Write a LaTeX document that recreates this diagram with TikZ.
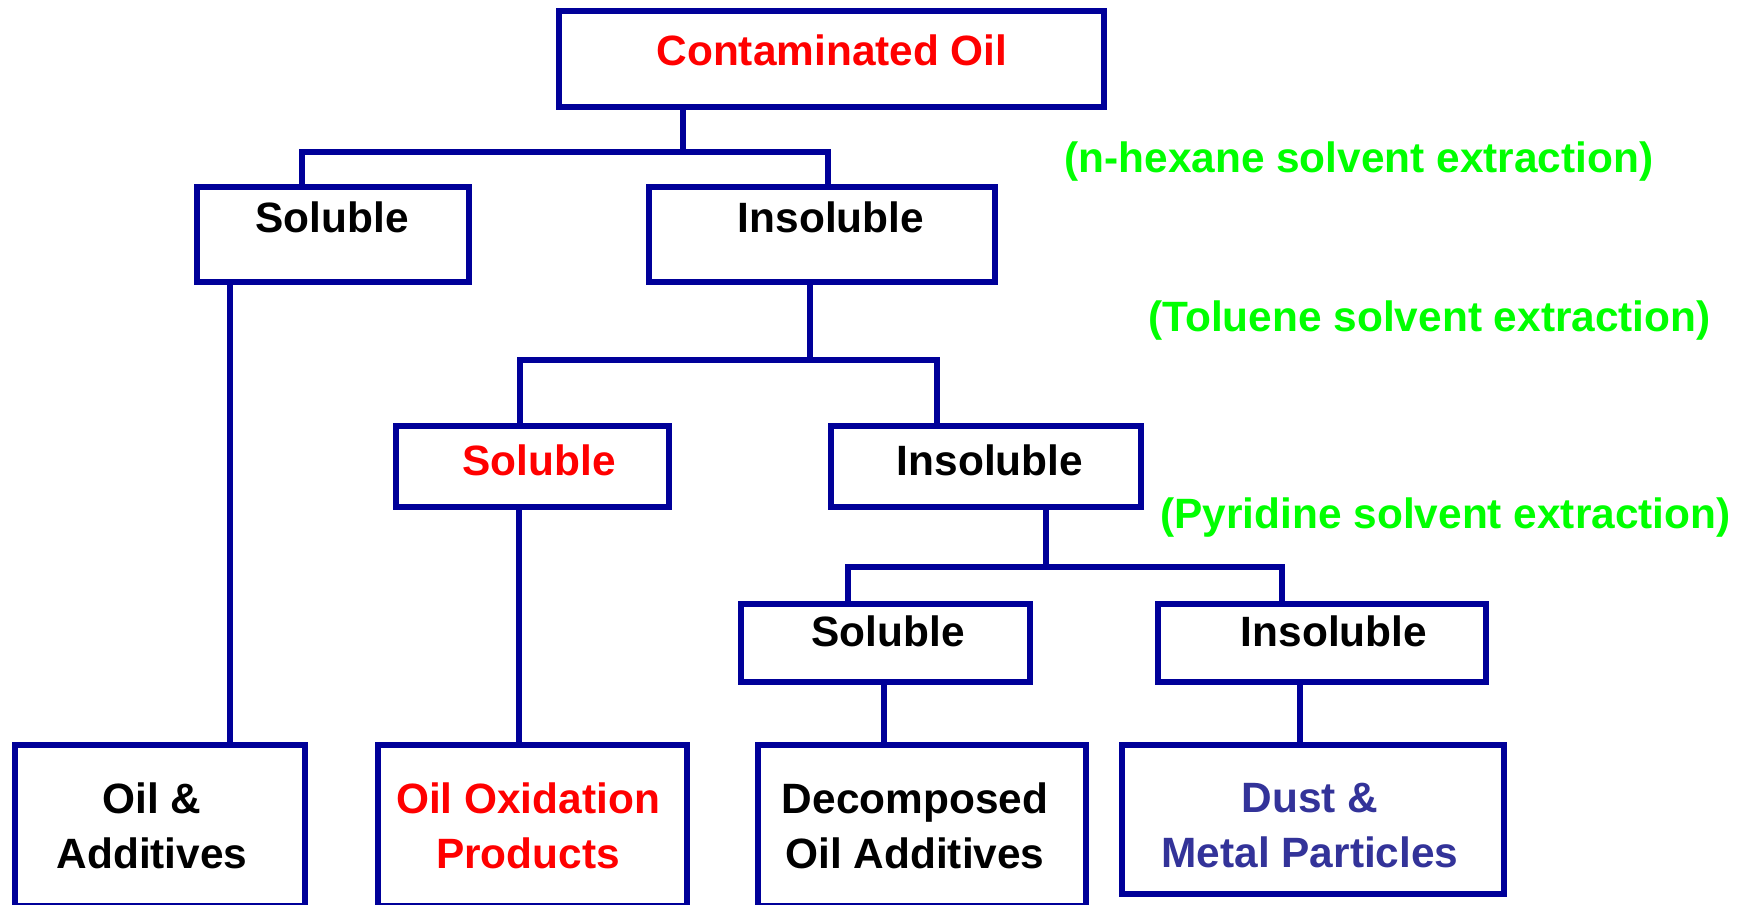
\documentclass[tikz,border=0pt]{standalone}
\usepackage{fontspec}
\setmainfont{Liberation Sans}
\definecolor{lineblue}{HTML}{000099}
\definecolor{txtred}{HTML}{FF0000}
\definecolor{txtgreen}{HTML}{00FF00}
\definecolor{txtdust}{HTML}{333399}
\begin{document}
\begin{tikzpicture}[x=0.5pt,y=-0.5pt,
  box/.style={draw=lineblue,line width=3pt,rectangle,inner sep=0pt,anchor=north west},
  lbl/.style={font=\fontsize{21.2pt}{27.5pt}\selectfont\bfseries,inner sep=0pt,align=center},
  note/.style={lbl,text=txtgreen,anchor=west},
  conn/.style={draw=lineblue,line width=3pt}]
\useasboundingbox (0,0) rectangle (1747,905);
% boxes
\node[box,minimum width=272.5pt,minimum height=48pt] (top) at (556,8) {};
\node[box,minimum width=136pt,minimum height=47.5pt] (sol1) at (194,184) {};
\node[box,minimum width=173pt,minimum height=47.5pt] (ins1) at (646,184) {};
\node[box,minimum width=136.5pt,minimum height=40.5pt] (sol2) at (393,423) {};
\node[box,minimum width=155pt,minimum height=40.5pt] (ins2) at (828,423) {};
\node[box,minimum width=144.5pt,minimum height=39pt] (sol3) at (738,601) {};
\node[box,minimum width=164pt,minimum height=39pt] (ins3) at (1155,601) {};
\node[box,minimum width=145pt,minimum height=80.5pt] (out1) at (12,742) {};
\node[box,minimum width=154.5pt,minimum height=80.5pt] (out2) at (375,742) {};
\node[box,minimum width=164pt,minimum height=80.5pt] (out3) at (755,742) {};
\node[box,minimum width=191pt,minimum height=74.5pt] (out4) at (1119,742) {};
% texts
\node[lbl,text=txtred] (ttop) at (832,50) {Contaminated Oil};
\node[lbl] (tsol1) at (332,217) {Soluble};
\node[lbl] (tins1) at (831,217) {Insoluble};
\node[lbl,text=txtred] (tsol2) at (539,460) {Soluble};
\node[lbl] (tins2) at (990,460) {Insoluble};
\node[lbl] (tsol3) at (888,631) {Soluble};
\node[lbl] (tins3) at (1334,631) {Insoluble};
\node[lbl] (tout1) at (152,826) {Oil \&\\Additives};
\node[lbl,text=txtred] (tout2) at (528,826) {Oil Oxidation\\Products};
\node[lbl] (tout3) at (915,826) {Decomposed\\Oil Additives};
\node[lbl,text=txtdust] (tout4) at (1310,826) {Dust \&\\Metal Particles};
% green notes
\node[note] (n1) at (1064,162) {(n-hexane solvent extraction)};
\node[note] (n2) at (1148,321) {(Toluene solvent extraction)};
\node[note] (n3) at (1160,518) {(Pyridine solvent extraction)};
% connector coordinates
\coordinate (j1) at (683,152);
\coordinate (j1l) at (302,152);
\coordinate (j1r) at (828,152);
\coordinate (j2) at (810,360);
\coordinate (j2l) at (520,360);
\coordinate (j2r) at (937,360);
\coordinate (j3) at (1046,567);
\coordinate (j3l) at (848,567);
\coordinate (j3r) at (1282,567);
\coordinate (s1) at (230,0);
\coordinate (s2) at (519,0);
\coordinate (s3) at (884,0);
\coordinate (s4) at (1300,0);
% connectors
\draw[conn] (j1 |- top.south) -- (j1);
\draw[conn] (j1l |- sol1.north) -- (j1l) -- (j1r) -- (j1r |- ins1.north);
\draw[conn] (j2 |- ins1.south) -- (j2);
\draw[conn] (j2l |- sol2.north) -- (j2l) -- (j2r) -- (j2r |- ins2.north);
\draw[conn] (j3 |- ins2.south) -- (j3);
\draw[conn] (j3l |- sol3.north) -- (j3l) -- (j3r) -- (j3r |- ins3.north);
\draw[conn] (s1 |- sol1.south) -- (s1 |- out1.north);
\draw[conn] (s2 |- sol2.south) -- (s2 |- out2.north);
\draw[conn] (s3 |- sol3.south) -- (s3 |- out3.north);
\draw[conn] (s4 |- ins3.south) -- (s4 |- out4.north);
\end{tikzpicture}
\end{document}
